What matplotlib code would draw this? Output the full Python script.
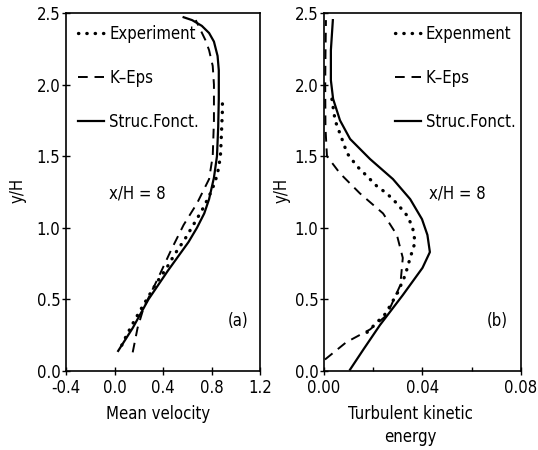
import numpy as np
import matplotlib
matplotlib.use("Agg")
import matplotlib.pyplot as plt

plt.rcParams['font.family'] = ['DejaVu Sans']
plt.rcParams['font.stretch'] = 'condensed'
plt.rcParams['font.size'] = 12
plt.rcParams['axes.unicode_minus'] = True

# --- (a) mean velocity profiles at x/H = 8
vel_struc_y = [0.14, 0.3, 0.5, 0.7, 0.9, 1.0, 1.1, 1.2, 1.35, 1.5, 1.7, 1.9, 2.1, 2.2, 2.3, 2.36, 2.41, 2.45, 2.47]
vel_struc_x = [0.03, 0.15, 0.28, 0.44, 0.61, 0.68, 0.74, 0.78, 0.82, 0.845, 0.855, 0.86, 0.86, 0.85, 0.82, 0.78, 0.72, 0.64, 0.57]

vel_keps_y = [0.13, 0.3, 0.44, 0.65, 0.85, 1.02, 1.17, 1.34, 1.5, 1.75, 2.0, 2.13, 2.24, 2.31, 2.38, 2.45]
vel_keps_x = [0.15, 0.19, 0.24, 0.36, 0.47, 0.57, 0.68, 0.78, 0.81, 0.82, 0.82, 0.81, 0.78, 0.75, 0.71, 0.67]

vel_exp_y = [0.18, 0.25, 0.33, 0.42, 0.52, 0.62, 0.72, 0.82, 0.92, 1.02, 1.12, 1.22, 1.32, 1.42, 1.52, 1.62, 1.72, 1.82, 1.92]
vel_exp_x = [0.06, 0.10, 0.15, 0.21, 0.28, 0.35, 0.43, 0.50, 0.58, 0.65, 0.72, 0.78, 0.83, 0.86, 0.875, 0.88, 0.885, 0.89, 0.89]

# --- (b) turbulent kinetic energy profiles
tke_struc_y = [0.01, 0.15, 0.32, 0.53, 0.72, 0.83, 0.95, 1.06, 1.2, 1.34, 1.48, 1.62, 1.75, 1.9, 2.03, 2.24, 2.45]
tke_struc_x = [0.0106, 0.016, 0.0227, 0.032, 0.040, 0.043, 0.042, 0.0398, 0.035, 0.028, 0.0187, 0.0106, 0.0065, 0.0037, 0.0028, 0.0028, 0.0036]

tke_keps_y = [0.08, 0.2, 0.29, 0.39, 0.6, 0.79, 0.95, 1.1, 1.24, 1.38, 1.5, 1.7, 2.0, 2.2, 2.45]
tke_keps_x = [0.0004, 0.009, 0.0187, 0.0255, 0.031, 0.032, 0.0296, 0.024, 0.0146, 0.0065, 0.0012, 0.0006, 0.0005, 0.0006, 0.0008]

tke_exp_y = [0.27, 0.4, 0.55, 0.67, 0.79, 0.9, 1.0, 1.08, 1.17, 1.24, 1.29, 1.36, 1.43, 1.52, 1.62, 1.75, 1.9]
tke_exp_x = [0.0175, 0.025, 0.030, 0.033, 0.035, 0.037, 0.036, 0.034, 0.0296, 0.0255, 0.0215, 0.0175, 0.0134, 0.0094, 0.0073, 0.0045, 0.0032]

yticks = [0.0, 0.5, 1.0, 1.5, 2.0, 2.5]
vel_ticks = [-0.4, 0.0, 0.4, 0.8, 1.2]
tke_ticks = [0.00, 0.04, 0.08]
tke_minor = [0.02, 0.06]

dot_style = dict(color='k', lw=2.4, ls=(0, (0.1, 2.4)), dash_capstyle='round')
dash_style = dict(color='k', lw=1.4, ls=(0, (5, 3.5)))
solid_style = dict(color='k', lw=1.6)

fig = plt.figure(figsize=(5.38, 4.5), dpi=100)
ax1 = fig.add_axes([0.1227, 0.1756, 0.3606, 0.7956])
ax2 = fig.add_axes([0.6022, 0.1756, 0.3662, 0.7956])


def style_axis(ax, xticks, xlim, fmt):
    ax.set_xlim(xlim)
    ax.set_ylim(0, 2.5)
    ax.set_yticks(yticks)
    ax.set_yticklabels(['%.1f' % v for v in yticks])
    ax.set_xticks(xticks)
    ax.set_xticklabels([fmt % v for v in xticks])
    ax.tick_params(direction='inout', length=6, width=1)
    ax.tick_params(axis='y', pad=1)
    ax.tick_params(axis='x', pad=3)
    ax.tick_params(which='minor', direction='in', length=3, width=1)
    for sp in ax.spines.values():
        sp.set_linewidth(1.2)


style_axis(ax1, vel_ticks, (-0.4, 1.2), '%.1f')
style_axis(ax2, tke_ticks, (0.0, 0.08), '%.2f')
ax2.set_xticks(tke_minor, minor=True)

ax1.plot(vel_exp_x, vel_exp_y, label='Experiment', **dot_style)
ax1.plot(vel_keps_x, vel_keps_y, label='K\u2013Eps', **dash_style)
ax1.plot(vel_struc_x, vel_struc_y, label='Struc.Fonct.', **solid_style)

ax2.plot(tke_exp_x, tke_exp_y, label='Expenment', **dot_style)
ax2.plot(tke_keps_x, tke_keps_y, label='K\u2013Eps', **dash_style)
ax2.plot(tke_struc_x, tke_struc_y, label='Struc.Fonct.', **solid_style)

for ax, anchor in ((ax1, (0.03, 0.985)), (ax2, (0.325, 0.985))):
    ax.legend(loc='upper left', bbox_to_anchor=anchor, frameon=False,
              handlelength=1.55, handletextpad=0.3, labelspacing=1.55,
              borderaxespad=0.0)

ax1.text(0.22, 0.495, 'x/H = 8', transform=ax1.transAxes, ha='left', va='center')
ax2.text(0.535, 0.495, 'x/H = 8', transform=ax2.transAxes, ha='left', va='center')
ax1.text(0.885, 0.14, '(a)', transform=ax1.transAxes, ha='center', va='center')
ax2.text(0.88, 0.14, '(b)', transform=ax2.transAxes, ha='center', va='center')

fig.text(18 / 538, 1 - 190 / 450, 'y/H', rotation=90, ha='center', va='center')
fig.text(282 / 538, 1 - 190 / 450, 'y/H', rotation=90, ha='center', va='center')
fig.text(158 / 538, 1 - 405 / 450, 'Mean velocity', ha='center', va='top')
fig.text(410 / 538, 1 - 405 / 450, 'Turbulent kinetic\nenergy', ha='center', va='top',
         linespacing=1.35)

fig.savefig('out.png', dpi=100)
